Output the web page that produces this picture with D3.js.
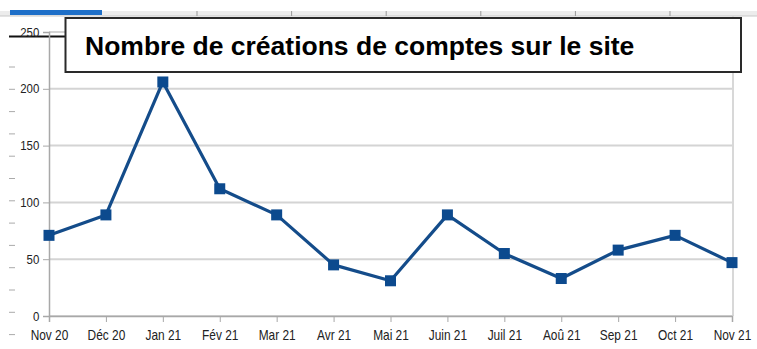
<!DOCTYPE html>
<html><head><meta charset="utf-8">
<script src="https://cdn.jsdelivr.net/npm/d3@7"></script>
<style>html,body{margin:0;padding:0;background:#fff;}svg{display:block;}</style>
</head><body>
<script>
const months = ["Nov 20","Déc 20","Jan 21","Fév 21","Mar 21","Avr 21","Mai 21","Juin 21","Juil 21","Aoû 21","Sep 21","Oct 21","Nov 21"];
const accounts = [71, 89, 206, 112, 89, 45, 31, 89, 55, 33, 58, 71, 47];
const yTicks = [0, 50, 100, 150, 200, 250];
const title = "Nombre de créations de comptes sur le site";

const W = 757, H = 349;
const svg = d3.select("body").append("svg").attr("width", W).attr("height", H);
svg.append("rect").attr("width", W).attr("height", H).attr("fill", "#fff");

const x = d3.scalePoint().domain(months).range([49, 732]);
const y = d3.scaleLinear().domain([0, 250]).range([316, 32]);

// screenshot ruler strip at top
svg.append("rect").attr("x", 0).attr("y", 11).attr("width", W).attr("height", 5).attr("fill", "#ececec");
svg.append("line").attr("x1", 0).attr("x2", W).attr("y1", 16).attr("y2", 16).attr("stroke", "#c8c8c8");
svg.append("rect").attr("x", 10).attr("y", 10).attr("width", 92).attr("height", 5).attr("fill", "#1e6fc8");
svg.selectAll("line.rt").data(d3.range(197, 757, 94.6)).join("line")
  .attr("x1", d => d).attr("x2", d => d).attr("y1", 11).attr("y2", 16).attr("stroke", "#999");
// left ruler ticks
svg.selectAll("line.lt").data(d3.range(67, 349, 22.3)).join("line")
  .attr("x1", 9).attr("x2", 15).attr("y1", d => d).attr("y2", d => d).attr("stroke", "#aaa");
svg.append("line").attr("x1", 9).attr("x2", 66).attr("y1", 36.5).attr("y2", 36.5).attr("stroke", "#111").attr("stroke-width", 2);

// gridlines
const g = svg.append("g");
g.selectAll("line.grid").data(yTicks).join("line")
  .attr("x1", 49).attr("x2", 733).attr("y1", d => y(d)).attr("y2", d => y(d))
  .attr("stroke", "#d4d4d4").attr("stroke-width", 2);
g.append("line").attr("x1", 733).attr("x2", 733).attr("y1", 16).attr("y2", 316).attr("stroke", "#d8d8d8").attr("stroke-width", 2);

// axes
const yAxis = d3.axisLeft(y).tickValues(yTicks).tickSize(6).tickPadding(5);
const ya = svg.append("g").attr("transform", "translate(49,0)").call(yAxis);
ya.select(".domain").attr("stroke", "#a8a8a8").attr("stroke-width", 1.5);
ya.selectAll(".tick line").attr("stroke", "#a8a8a8");
ya.selectAll(".tick text").attr("font-family", "Liberation Sans, Arial, sans-serif").attr("font-size", 13)
  .attr("transform", "scale(0.88,1)").attr("fill", "#222");

const xAxis = d3.axisBottom(x).tickSize(6).tickPadding(8);
const xa = svg.append("g").attr("transform", "translate(0,316)").call(xAxis);
xa.select(".domain").attr("stroke", "#a8a8a8").attr("stroke-width", 1.5);
xa.selectAll(".tick line").attr("stroke", "#a8a8a8");
xa.selectAll(".tick text").attr("font-family", "Liberation Sans, Arial, sans-serif").attr("font-size", 14)
  .attr("transform", "scale(0.85,1)").attr("fill", "#222");

// line
const line = d3.line().x((d, i) => x(months[i])).y(d => y(d));
svg.append("path").datum(accounts).attr("d", line).attr("fill", "none")
  .attr("stroke", "#144c8a").attr("stroke-width", 3.2).attr("stroke-linejoin", "round");
svg.selectAll("rect.pt").data(accounts).join("rect")
  .attr("x", (d, i) => x(months[i]) - 5.5).attr("y", d => y(d) - 5.5)
  .attr("width", 11).attr("height", 11).attr("fill", "#0c4a8e");

// title box
svg.append("rect").attr("x", 65.5).attr("y", 18).attr("width", 675.5).attr("height", 54)
  .attr("fill", "#fff").attr("stroke", "#2a2a2a").attr("stroke-width", 2);
svg.append("text").attr("x", 85).attr("y", 55).text(title)
  .attr("font-family", "Liberation Sans, Arial, sans-serif").attr("font-weight", "bold")
  .attr("font-size", 26.5).attr("fill", "#000");
</script>
</body></html>
